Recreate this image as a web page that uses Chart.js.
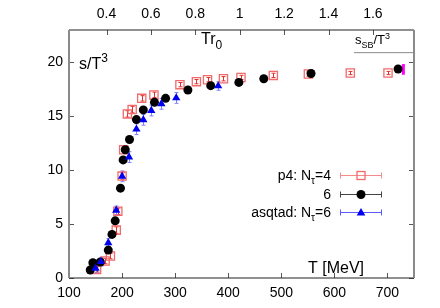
<!DOCTYPE html>
<html>
<head>
<meta charset="utf-8">
<script src="https://cdn.jsdelivr.net/npm/chart.js@4/dist/chart.umd.min.js"></script>
<style>
  html, body { margin: 0; padding: 0; background: #fff; }
  #wrap { width: 440px; height: 308px; }
</style>
</head>
<body>
<div id="wrap"><canvas id="chart" width="440" height="308"></canvas></div>
<script>
// values
const p4T   = [152, 168, 178, 189, 192, 200, 203, 210, 219, 237, 260, 309, 340, 361, 391, 424, 485, 551, 630, 701];
const p4S   = [0.80, 1.57, 2.03, 4.44, 6.19, 9.45, 11.89, 15.22, 15.62, 16.66, 16.98, 17.93, 18.21, 18.39, 18.48, 18.60, 18.79, 18.92, 19.01, 19.01];
const p4Err = [0.25, 0.25, 0.25, 0.3, 0.3, 0.3, 0.3, 0.3, 0.3, 0.25, 0.25, 0.2, 0.2, 0.2, 0.2, 0.2, 0.2, 0.2, 0.15, 0.15];

const nt6T = [140, 145, 159, 174, 181, 187, 197, 202, 206, 214, 227, 240, 261, 282, 324, 367, 420, 467, 556, 720];
const nt6S = [0.74, 1.41, 1.48, 2.59, 4.04, 5.30, 8.33, 10.95, 11.89, 12.85, 14.69, 15.59, 16.29, 16.66, 17.44, 17.84, 18.14, 18.48, 18.97, 19.38];

const asqT   = [150, 160, 174, 189, 200, 213, 227, 240, 255, 274, 302, 381];
const asqS   = [0.90, 1.51, 3.26, 6.28, 9.43, 11.21, 13.80, 14.67, 15.53, 16.15, 16.70, 17.81];
const asqErr = [0.4, 0.4, 0.4, 0.4, 0.5, 0.5, 0.5, 0.5, 0.5, 0.5, 0.5, 0.4];

const sbT = [637, 750];
const sbS = [20.9, 20.9];
const contT = [730, 730];
const contS = [18.85, 19.84];

const xTicksMin = 100, xTicksMax = 750;
const trMin = 0.231, trMax = 1.785;
const yMax = 23;

const FONT = "'Liberation Sans', Arial, Helvetica, sans-serif";

const pts = (xs, ys) => xs.map((x, i) => ({ x: x, y: ys[i] }));

// draw text with sub/superscript pieces: [text, 'n'|'sub'|'sup']
function richWidth(ctx, parts, size) {
  let w = 0;
  parts.forEach(([t, k]) => {
    ctx.font = (k === 'n' ? size : Math.round(size * 0.72)) + 'px ' + FONT;
    w += ctx.measureText(t).width;
  });
  return w;
}
function richText(ctx, parts, x, y, size) {
  ctx.textAlign = 'left';
  ctx.textBaseline = 'alphabetic';
  parts.forEach(([t, k]) => {
    const s = k === 'n' ? size : Math.round(size * 0.72);
    ctx.font = s + 'px ' + FONT;
    const dy = k === 'sub' ? size * 0.3 : (k === 'sup' ? -size * 0.42 : 0);
    ctx.fillText(t, x, y + dy);
    x += ctx.measureText(t).width;
  });
}

function marker(ctx, kind, x, y) {
  ctx.save();
  if (kind === 'rect') {
    ctx.strokeStyle = '#f26a6a';
    ctx.lineWidth = 1.3;
    ctx.strokeRect(x - 4, y - 4, 8, 8);
  } else if (kind === 'circle') {
    ctx.fillStyle = '#000';
    ctx.beginPath();
    ctx.arc(x, y, 4.5, 0, Math.PI * 2);
    ctx.fill();
  } else {
    ctx.fillStyle = '#0000f0';
    ctx.beginPath();
    ctx.moveTo(x, y - 4.5);
    ctx.lineTo(x + 4.3, y + 3);
    ctx.lineTo(x - 4.3, y + 3);
    ctx.closePath();
    ctx.fill();
  }
  ctx.restore();
}

const decor = {
  id: 'decor',
  beforeDatasetsDraw(chart) {
    const ctx = chart.ctx;
    const xs = chart.scales.x, ys = chart.scales.y;
    // error bars
    const bars = [[p4T, p4S, p4Err, '#e03030'], [asqT, asqS, asqErr, '#8080ff']];
    ctx.save();
    bars.forEach(([T, S, E, col]) => {
      ctx.strokeStyle = col;
      ctx.lineWidth = 1;
      T.forEach((t, i) => {
        const px = Math.round(xs.getPixelForValue(t)) + 0.5;
        const y1 = ys.getPixelForValue(S[i] - E[i]);
        const y2 = ys.getPixelForValue(S[i] + E[i]);
        ctx.beginPath();
        ctx.moveTo(px, y1); ctx.lineTo(px, y2);
        ctx.moveTo(px - 2, y1); ctx.lineTo(px + 2, y1);
        ctx.moveTo(px - 2, y2); ctx.lineTo(px + 2, y2);
        ctx.stroke();
      });
    });
    ctx.restore();
  },
  afterDatasetsDraw(chart) {
    const ctx = chart.ctx;
    const a = chart.chartArea;
    const xs = chart.scales.x, ys = chart.scales.y, x2 = chart.scales.x2;
    ctx.save();
    // inward ticks
    ctx.strokeStyle = '#555';
    ctx.lineWidth = 1;
    xs.ticks.forEach(t => {
      const px = Math.round(xs.getPixelForValue(t.value)) + 0.5;
      ctx.beginPath(); ctx.moveTo(px, a.bottom); ctx.lineTo(px, a.bottom - 5); ctx.stroke();
    });
    x2.ticks.forEach(t => {
      const px = Math.round(x2.getPixelForValue(t.value)) + 0.5;
      ctx.beginPath(); ctx.moveTo(px, a.top); ctx.lineTo(px, a.top + 5); ctx.stroke();
    });
    ys.ticks.forEach(t => {
      const py = Math.round(ys.getPixelForValue(t.value)) + 0.5;
      ctx.beginPath(); ctx.moveTo(a.left, py); ctx.lineTo(a.left + 5, py); ctx.stroke();
      ctx.beginPath(); ctx.moveTo(a.right, py); ctx.lineTo(a.right - 5, py); ctx.stroke();
    });
    // frame
    ctx.strokeStyle = '#222';
    ctx.lineWidth = 1.2;
    ctx.beginPath();
    ctx.moveTo(a.left, a.top); ctx.lineTo(a.right, a.top);
    ctx.moveTo(a.left, a.bottom); ctx.lineTo(a.right, a.bottom);
    ctx.stroke();
    ctx.strokeStyle = '#8a8a8a';
    ctx.lineWidth = 2;
    ctx.beginPath();
    ctx.moveTo(a.left, a.top); ctx.lineTo(a.left, a.bottom);
    ctx.moveTo(a.right, a.top); ctx.lineTo(a.right, a.bottom);
    ctx.stroke();

    // labels
    ctx.fillStyle = '#000';
    richText(ctx, [['s/T', 'n'], ['3', 'sup']], 79, 69, 16);
    richText(ctx, [['Tr', 'n'], ['0', 'sub']], 201, 44, 16);
    richText(ctx, [['s', 'n'], ['SB', 'sub'], ['/T', 'n'], ['3', 'sup']], 355, 44, 13);
    ctx.font = '16px ' + FONT;
    ctx.textAlign = 'left';
    ctx.fillText('T [MeV]', 308, 273);

    // legend
    const rows = [
      [[['p4: N', 'n'], ['\u03c4', 'sub'], ['=4', 'n']], 'rect', '#f58a8a', 175],
      [[['6', 'n']], 'circle', '#444', 194],
      [[['asqtad: N', 'n'], ['\u03c4', 'sub'], ['=6', 'n']], 'tri', '#5a5aff', 212]
    ];
    rows.forEach(([parts, kind, col, y]) => {
      ctx.fillStyle = '#000';
      const w = richWidth(ctx, parts, 14);
      richText(ctx, parts, 331 - w, y + 5, 14);
      ctx.strokeStyle = col;
      ctx.lineWidth = 1;
      ctx.beginPath();
      ctx.moveTo(340, y + 0.5); ctx.lineTo(382, y + 0.5);
      ctx.moveTo(340.5, y - 2.5); ctx.lineTo(340.5, y + 3.5);
      ctx.moveTo(381.5, y - 2.5); ctx.lineTo(381.5, y + 3.5);
      ctx.stroke();
      marker(ctx, kind, 361, y + 0.5);
    });
    ctx.restore();
  }
};

new Chart(document.getElementById('chart'), {
  type: 'scatter',
  data: {
    datasets: [
      {
        label: 'asqtad: Nt=6',
        data: pts(asqT, asqS),
        pointStyle: 'triangle',
        pointRadius: 4.8,
        backgroundColor: '#0000f0',
        borderColor: '#0000f0',
        borderWidth: 0
      },
      {
        label: '6',
        data: pts(nt6T, nt6S),
        pointStyle: 'circle',
        pointRadius: 4.5,
        backgroundColor: '#000',
        borderColor: '#000',
        borderWidth: 0
      },
      {
        label: 'p4: Nt=4',
        data: pts(p4T, p4S),
        pointStyle: 'rect',
        pointRadius: 5.8,
        backgroundColor: 'rgba(0,0,0,0)',
        borderColor: '#f26a6a',
        borderWidth: 1.3
      },
      {
        label: 'SB',
        data: pts(sbT, sbS),
        showLine: true,
        pointRadius: 0,
        borderColor: '#8a8a8a',
        borderWidth: 1
      },
      {
        label: 'cont',
        data: pts(contT, contS),
        showLine: true,
        pointRadius: 0,
        borderColor: '#ff00ff',
        borderWidth: 3
      }
    ]
  },
  options: {
    responsive: false,
    animation: false,
    events: [],
    layout: { padding: { left: 0, right: 26, top: 0, bottom: 0 } },
    plugins: { legend: { display: false }, tooltip: { enabled: false } },
    scales: {
      x: {
        type: 'linear',
        position: 'bottom',
        min: xTicksMin,
        max: xTicksMax,
        grid: { display: false, drawTicks: false },
        border: { display: false },
        ticks: { stepSize: 100, includeBounds: false, autoSkip: false, maxRotation: 0, padding: 7,
                 color: '#000', font: { family: FONT, size: 14 } },
        afterFit: s => { s.height = 30; }
      },
      x2: {
        type: 'linear',
        position: 'top',
        min: trMin,
        max: trMax,
        grid: { display: false, drawTicks: false },
        border: { display: false },
        ticks: { stepSize: 0.2, includeBounds: false, autoSkip: false, maxRotation: 0, padding: 7,
                 color: '#000', font: { family: FONT, size: 14 },
                 callback: v => String(+v.toFixed(1)) },
        afterFit: s => { s.height = 30; }
      },
      y: {
        type: 'linear',
        min: 0,
        max: yMax,
        grid: { display: false, drawTicks: false },
        border: { display: false },
        ticks: { stepSize: 5, includeBounds: false, autoSkip: false, padding: 6,
                 color: '#000', font: { family: FONT, size: 14 } },
        afterFit: s => { s.height = undefined; s.width = 69; }
      }
    }
  },
  plugins: [decor]
});
</script>
</body>
</html>
